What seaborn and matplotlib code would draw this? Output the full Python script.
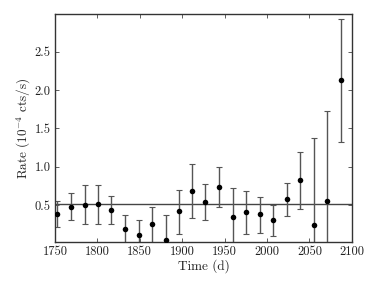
import matplotlib
matplotlib.use("Agg")
import matplotlib.pyplot as plt
import seaborn as sns
import numpy as np
import pandas as pd

time_d = [1752.7, 1768.9, 1785.0, 1800.3, 1816.4, 1832.2, 1848.7, 1864.4, 1880.5, 1896.2, 1911.3,
          1927.4, 1943.6, 1959.4, 1975.5, 1991.3, 2007.4, 2023.5, 2039.2, 2054.9, 2071.0, 2087.0]
rate = [0.38, 0.47, 0.50, 0.51, 0.43, 0.19, 0.11, 0.25, 0.05, 0.42, 0.68,
        0.54, 0.74, 0.34, 0.41, 0.38, 0.30, 0.58, 0.83, 0.24, 0.56, 2.13]
err_hi = [0.55, 0.66, 0.76, 0.76, 0.62, 0.37, 0.30, 0.47, 0.37, 0.70, 1.03,
          0.78, 1.00, 0.72, 0.68, 0.61, 0.50, 0.79, 1.19, 1.38, 1.72, 2.93]
err_lo = [0.21, 0.30, 0.25, 0.26, 0.26, 0.0, 0.0, 0.0, 0.0, 0.13, 0.33,
          0.30, 0.47, 0.0, 0.13, 0.14, 0.10, 0.36, 0.45, 0.0, 0.0, 1.32]
mean_rate = 0.51
x_ticks = [1750, 1800, 1850, 1900, 1950, 2000, 2050, 2100]
y_ticks = [0.5, 1.0, 1.5, 2.0, 2.5]

df = pd.DataFrame({"time": time_d, "rate": rate, "hi": err_hi, "lo": err_lo})

sns.set_style("ticks")
plt.rcParams["font.family"] = ["serif"]
plt.rcParams["font.serif"] = ["cmr10", "DejaVu Serif"]
plt.rcParams["mathtext.fontset"] = "cm"
plt.rcParams["axes.formatter.use_mathtext"] = True

fig = plt.figure(figsize=(3.82, 2.86), dpi=100)
ax = fig.add_axes([0.144, 0.154, 0.777, 0.797])

yerr = np.vstack([df["rate"] - df["lo"], df["hi"] - df["rate"]])
ax.errorbar(df["time"], df["rate"], yerr=yerr, fmt="none", ecolor="#555555",
            elinewidth=1.0, capsize=2.0, capthick=0.8, zorder=2)
sns.scatterplot(data=df, x="time", y="rate", ax=ax, color="black", s=16,
                edgecolor="black", linewidth=0, zorder=3)
ax.axhline(mean_rate, color="#444444", lw=1.0, zorder=1)

ax.set_xlim(1750, 2100)
ax.set_ylim(0.02, 2.99)
ax.set_xticks(x_ticks)
ax.set_yticks(y_ticks)
ax.set_xticklabels([str(v) for v in x_ticks])
ax.set_yticklabels([f"{v:.1f}" for v in y_ticks])
ax.tick_params(direction="in", top=True, right=True, length=3, width=0.6,
               colors="#444444", labelcolor="#222222", labelsize=9)
ax.tick_params(axis="x", pad=2.5)
ax.tick_params(axis="y", pad=3)
for s in ax.spines.values():
    s.set_color("#333333")
    s.set_linewidth(1.0)
ax.set_xlabel("Time (d)", fontsize=9.5, color="#222222", labelpad=1)
ax.set_ylabel(r"Rate ($10^{-4}$ cts/s)", fontsize=9.5, color="#222222", labelpad=1)

fig.savefig("out.png", dpi=100)
